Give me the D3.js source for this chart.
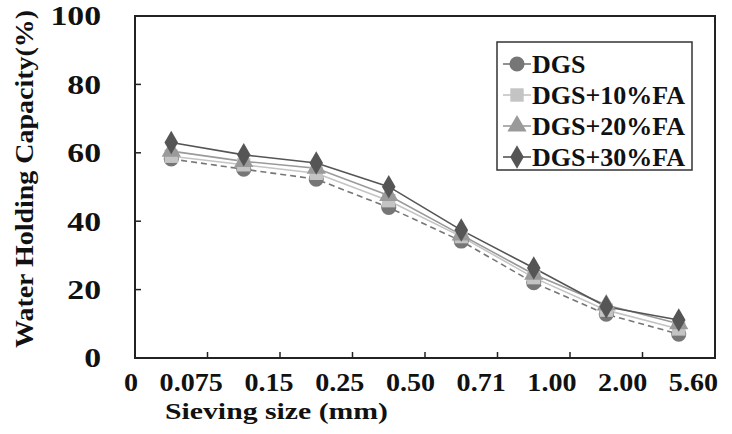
<!DOCTYPE html>
<html>
<head>
<meta charset="utf-8">
<script src="https://cdn.jsdelivr.net/npm/d3@7"></script>
<style>
  body { margin: 0; background: #fff; }
  text { font-family: "Liberation Serif", "Times New Roman", serif; font-weight: bold; fill: #111; }
</style>
</head>
<body>
<svg id="chart" width="732" height="434"></svg>
<script>
// sieve sizes (mm) used as boundary labels, 8 fractions between them
var sizeLabels = ["0", "0.075", "0.15", "0.25", "0.50", "0.71", "1.00", "2.00", "5.60"];
var fractions = [1, 2, 3, 4, 5, 6, 7, 8];
var yTicks = [0, 20, 40, 60, 80, 100];

var seriesNames = ["DGS", "DGS+10%FA", "DGS+20%FA", "DGS+30%FA"];
var dgs   = [58.2, 55.2, 52.3, 44.0, 34.2, 22.0, 12.8, 7.0];
var fa10  = [59.0, 56.5, 54.0, 46.0, 35.5, 23.5, 14.0, 8.5];
var fa20  = [60.5, 57.5, 55.5, 47.5, 36.0, 24.5, 15.5, 10.0];
var fa30  = [63.0, 59.4, 57.0, 50.1, 37.4, 26.3, 15.0, 11.1];

var colors = ["#767676", "#c4c4c4", "#9a9a9a", "#555555"];
var symbols = [d3.symbolCircle, d3.symbolSquare, d3.symbolTriangle, d3.symbolDiamond];
var symbolSizes = [180, 180, 160, 160];

var svg = d3.select("#chart");
var margin = {left: 135, right: 17, top: 16, bottom: 76};
var width = 732 - margin.left - margin.right;
var height = 434 - margin.top - margin.bottom;

var x = d3.scaleBand().domain(fractions).range([margin.left, margin.left + width]);
var y = d3.scaleLinear().domain([0, 100]).range([margin.top + height, margin.top]);

var allSeries = [dgs, fa10, fa20, fa30];

// the scanned figure has wide lettering, so stretch text horizontally
function stretch(sel, factor) {
    sel.each(function () {
        var w = this.getComputedTextLength();
        d3.select(this).attr("textLength", w * factor).attr("lengthAdjust", "spacingAndGlyphs");
    });
}

// plot frame
svg.append("rect")
    .attr("x", margin.left).attr("y", margin.top)
    .attr("width", width).attr("height", height)
    .attr("fill", "none").attr("stroke", "#222").attr("stroke-width", 2);

// inward ticks on x (boundaries between fractions)
var boundaries = d3.range(1, fractions.length).map(function (i) { return x.range()[0] + i * x.step(); });
svg.append("g").selectAll("line")
    .data(boundaries)
    .join("line")
    .attr("x1", function (d) { return d; }).attr("x2", function (d) { return d; })
    .attr("y1", y(0)).attr("y2", y(0) - 6)
    .attr("stroke", "#222").attr("stroke-width", 1.5);

// inward ticks on y
svg.append("g").selectAll("line")
    .data(yTicks.slice(1, -1))
    .join("line")
    .attr("x1", margin.left).attr("x2", margin.left + 6)
    .attr("y1", function (d) { return y(d); }).attr("y2", function (d) { return y(d); })
    .attr("stroke", "#222").attr("stroke-width", 1.5);

var yLabels = svg.append("g").selectAll("text")
    .data(yTicks)
    .join("text")
    .attr("x", 101)
    .attr("y", function (d) { return y(d); })
    .attr("dy", "0.35em")
    .attr("text-anchor", "end")
    .style("font-size", "27px")
    .text(function (d) { return d; });
stretch(yLabels, 1.25);

// x labels: laid out as one justified line under the axis
var xLabels = svg.append("g").selectAll("text")
    .data(sizeLabels)
    .join("text")
    .attr("y", y(0) + 33)
    .style("font-size", "26px")
    .text(function (d) { return d; });
stretch(xLabels, 1.08);
var widths = [];
xLabels.each(function () { widths.push(+this.getAttribute("textLength")); });
var spanStart = x.range()[0] - 11, spanEnd = x.range()[1] + 3;
var gap = (spanEnd - spanStart - d3.sum(widths)) / (sizeLabels.length - 1);
var cursor = spanStart;
xLabels.attr("x", function (d, i) {
    var pos = cursor;
    cursor += widths[i] + gap;
    return pos;
});

svg.append("text")
    .attr("x", 165).attr("y", 419)
    .attr("textLength", 223).attr("lengthAdjust", "spacingAndGlyphs")
    .style("font-size", "24px")
    .text("Sieving size (mm)");

svg.append("text")
    .attr("transform", "translate(33,348) rotate(-90)")
    .attr("textLength", 338).attr("lengthAdjust", "spacingAndGlyphs")
    .style("font-size", "25px")
    .text("Water Holding Capacity(%)");

// series lines and markers
var line = d3.line()
    .x(function (d, i) { return x(fractions[i]) + x.bandwidth() / 2; })
    .y(function (d) { return y(d); });

allSeries.forEach(function (values, s) {
    svg.append("path")
        .datum(values)
        .attr("d", line)
        .attr("fill", "none")
        .attr("stroke", colors[s])
        .attr("stroke-width", 1.6)
        .attr("stroke-dasharray", s == 0 ? "6,4" : null);
});

allSeries.forEach(function (values, s) {
    svg.append("g").selectAll("path")
        .data(values)
        .join("path")
        .attr("d", d3.symbol().type(symbols[s]).size(symbolSizes[s]))
        .attr("transform", function (d, i) {
            return "translate(" + (x(fractions[i]) + x.bandwidth() / 2) + "," + y(d) + ")";
        })
        .attr("fill", colors[s]);
});

// legend
var legend = svg.append("g").attr("transform", "translate(497,42)");
legend.append("rect")
    .attr("width", 195).attr("height", 128)
    .attr("fill", "#fff").attr("stroke", "#333").attr("stroke-width", 1.5);

var items = legend.selectAll("g.item")
    .data(seriesNames)
    .join("g")
    .attr("class", "item")
    .attr("transform", function (d, i) { return "translate(0," + (22 + i * 31) + ")"; });

items.append("line")
    .attr("x1", 6).attr("x2", 34)
    .attr("stroke", function (d, i) { return colors[i]; })
    .attr("stroke-width", 1.6);
items.append("path")
    .attr("d", function (d, i) { return d3.symbol().type(symbols[i]).size(symbolSizes[i])(); })
    .attr("transform", "translate(20,0)")
    .attr("fill", function (d, i) { return colors[i]; });
items.append("text")
    .attr("x", 35).attr("dy", "0.35em")
    .style("font-size", "26px")
    .text(function (d) { return d; });
</script>
</body>
</html>
